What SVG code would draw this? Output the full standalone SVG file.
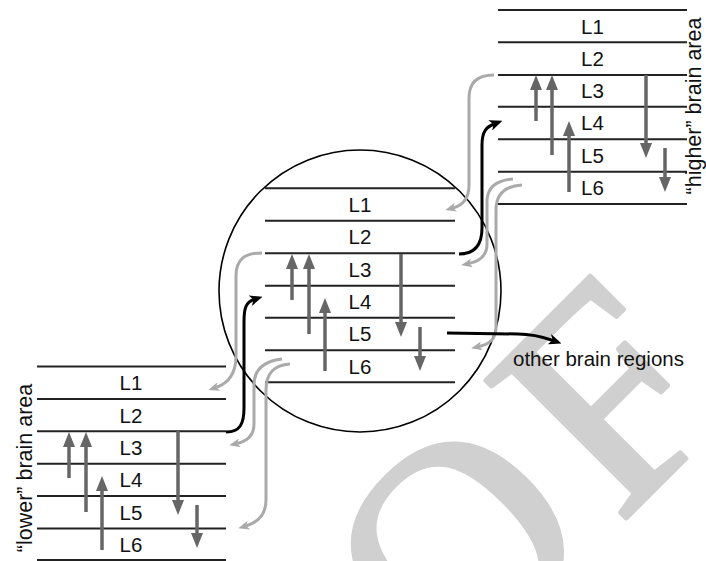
<svg xmlns="http://www.w3.org/2000/svg" width="706" height="561" viewBox="0 0 706 561">
<defs>
<style>
.lay{stroke:#222;stroke-width:2;fill:none}
.lbl{font-family:"Liberation Sans",Arial,sans-serif;font-size:20.5px;fill:#111;text-anchor:middle}
.side{font-family:"Liberation Sans",Arial,sans-serif;font-size:21.5px;fill:#111;text-anchor:middle}
.dk{stroke:#666;stroke-width:3.5;fill:none;marker-end:url(#aD)}
.bk{stroke:#000;stroke-width:3;fill:none;marker-end:url(#aB)}
.gr{stroke:#aaa;stroke-width:3;fill:none;marker-end:url(#aG)}
.wm{font-family:"Liberation Serif","Times New Roman",serif;font-size:300px;fill:#d0d0d0;stroke:#d0d0d0;stroke-width:5;stroke-linejoin:round}
</style>
<marker id="aD" markerUnits="userSpaceOnUse" markerWidth="15" markerHeight="12" refX="4" refY="6" orient="auto"><path d="M0,0 L15,6 L0,12 z" fill="#666"/></marker>
<marker id="aB" markerUnits="userSpaceOnUse" markerWidth="13" markerHeight="11" refX="4" refY="5.5" orient="auto"><path d="M0,0 L13,5.5 L0,11 L3.5,5.5 z" fill="#000"/></marker>
<marker id="aG" markerUnits="userSpaceOnUse" markerWidth="11" markerHeight="9" refX="3" refY="4.5" orient="auto"><path d="M0,0 L11,4.5 L0,9 L3,4.5 z" fill="#aaa"/></marker>
</defs>
<rect width="706" height="561" fill="#fff"/>
<g id="watermark"><text class="wm" transform="translate(572.1,572.1) rotate(-45)" x="-755.4 -588.6 -388.6 -172 66" y="0">PROOF</text></g>

<g id="circle-area">
<circle cx="360" cy="291" r="141" fill="none" stroke="#000" stroke-width="1.6"/>
</g>

<g id="lower-area">
<path class="lay" d="M37,366.5H226M37,399H226M37,431.3H226M37,463.7H226M37,496H226M37,528.5H226M37,560H226"/>
<text class="lbl" x="131" y="390">L1</text>
<text class="lbl" x="131" y="422.5">L2</text>
<text class="lbl" x="131" y="454.8">L3</text>
<text class="lbl" x="131" y="487.2">L4</text>
<text class="lbl" x="131" y="519.5">L5</text>
<text class="lbl" x="131" y="551.8">L6</text>
<path class="dk" d="M69,478V443"/>
<path class="dk" d="M86,512V443"/>
<path class="dk" d="M102,550V487"/>
<path class="dk" d="M178,431V504"/>
<path class="dk" d="M197,505V537"/>
<text class="side" transform="translate(32,468) rotate(-90)">“lower” brain area</text>
</g>

<g id="middle-area">
<path class="lay" d="M265,188.3H455M265,220.7H455M265,253.3H455M265,285.7H455M265,317.7H455M265,350.3H455M265,382.3H455"/>
<text class="lbl" x="360" y="211.8">L1</text>
<text class="lbl" x="360" y="244.3">L2</text>
<text class="lbl" x="360" y="276.8">L3</text>
<text class="lbl" x="360" y="309">L4</text>
<text class="lbl" x="360" y="341.3">L5</text>
<text class="lbl" x="360" y="373.6">L6</text>
<path class="dk" d="M292,300V265"/>
<path class="dk" d="M309,334V265"/>
<path class="dk" d="M325,371V309"/>
<path class="dk" d="M401,254V326"/>
<path class="dk" d="M420,327V360"/>
</g>

<g id="upper-area">
<path class="lay" d="M498,10H687M498,42.3H687M498,75H687M498,106.7H687M498,139.3H687M498,171.7H687M498,204H687"/>
<text class="lbl" x="592.5" y="33.5">L1</text>
<text class="lbl" x="592.5" y="66">L2</text>
<text class="lbl" x="592.5" y="98.2">L3</text>
<text class="lbl" x="592.5" y="130.3">L4</text>
<text class="lbl" x="592.5" y="162.8">L5</text>
<text class="lbl" x="592.5" y="195.2">L6</text>
<path class="dk" d="M536,121V86"/>
<path class="dk" d="M552,155V86"/>
<path class="dk" d="M569,192V132"/>
<path class="dk" d="M646,75V147"/>
<path class="dk" d="M665,148V181"/>
<text class="side" transform="translate(701,106) rotate(-90)">“higher” brain area</text>
</g>

<g id="other-regions">
<text x="513" y="366" font-family="Liberation Sans, Arial, sans-serif" font-size="20.5" fill="#111">other brain regions</text>
</g>

<g id="connectors">
<path class="gr" d="M262,253 C245,253 236,259 236,276 L236,356 C236,373 229,383 216,387.5"/>
<path class="gr" d="M282,359 C265,361 254,368 254,385 L254,424 C254,435 248,441 237,443.5"/>
<path class="gr" d="M290,364 C275,365 266,372 266,390 L266,500 C266,514 259,522 246,526"/>
<path class="gr" d="M494,75 C478,75 469,82 469,98 L469,185 C469,198 464,205 453,208"/>
<path class="gr" d="M513,179 C498,180 488,186 487,200 L487,244 C487,255 481,261 469,263.5"/>
<path class="gr" d="M522,185 C507,186 496,193 496,210 L496,327 C496,339 490,344 479,346.5"/>
<path class="bk" d="M226,432 C240,432 244,424 244,408 L244,322 C244,308 246,302 254,299.5"/>
<path class="bk" d="M459,254 C475,254 482,245 482,228 L482,145 C482,132 486,127 494,124"/>
<path class="bk" d="M447,333 L518,334 C533,334 543,337 553,340.5"/>
</g>
</svg>
